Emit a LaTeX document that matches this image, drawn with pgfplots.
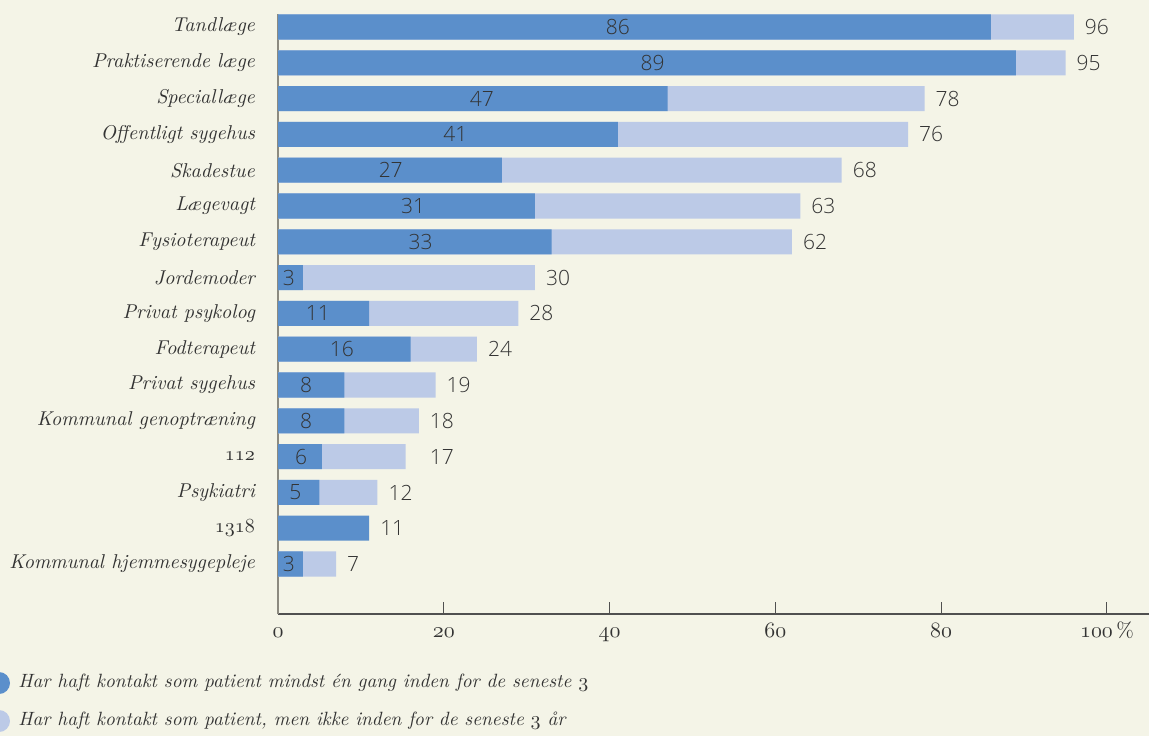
\documentclass[border=0pt]{standalone}
\usepackage{fontspec}
\usepackage{pgfplots}
\usepackage{pgfplotstable}
\pgfplotsset{compat=1.18}
\newfontfamily\numfont{Open Sans Light}
\newcommand\osf[1]{{\usefont{OML}{cmm}{m}{it}#1}}
\definecolor{bg}{RGB}{244,244,231}
\definecolor{dark}{RGB}{91,143,203}
\definecolor{light}{RGB}{188,202,231}
\definecolor{txt}{RGB}{51,51,51}
\definecolor{axisdark}{RGB}{80,80,80}
\definecolor{axisgray}{RGB}{140,138,128}

\pgfplotstableread{
y total dark
15 96 86
14 95 89
13 78 47
12 76 41
11 68 27
10 63 31
9 62 33
8 31 3
7 29 11
6 24 16
5 19 8
4 17 8
3 15.4 5.3
2 12 5
1 0 11
0 7 3
}\bars

\pgfplotstableread{
y x lab
15 96 96
14 95 95
13 78 78
12 76 76
11 68 68
10 63 63
9 62 62
8 31 30
7 29 28
6 24 24
5 19 19
4 17 18
3 17 17
2 12 12
1 11 11
0 7 7
}\totlabels

\pgfplotstableread{
y x lab
15 41.0 86
14 45.2 89
13 24.6 47
12 21.4 41
11 13.6 27
10 16.3 31
9 17.2 33
8 1.3 3
7 4.8 11
6 7.7 16
5 3.4 8
4 3.4 8
3 2.8 6
2 2.1 5
0 1.3 3
}\darklabels

\begin{document}
\begin{tikzpicture}
\path[use as bounding box] (0,0) rectangle (574.5pt,-368pt);
\clip (0,0) rectangle (574.5pt,-368pt);
\fill[bg] (0,0) rectangle (574.5pt,-368pt);
\begin{axis}[
  at={(139pt,-307pt)}, anchor=south west,
  scale only axis, width=435.5pt, height=300pt,
  xmin=0, xmax=105.07, ymin=-1.397, ymax=15.363,
  axis x line*=bottom, axis y line*=left,
  x axis line style={draw=axisdark, line width=0.6pt, -},
  y axis line style={draw=axisgray, line width=1pt, -},
  xtick={0,20,40,60,80,100},
  xticklabels={\osf{0},\osf{20},\osf{40},\osf{60},\osf{80},\osf{100}\,\%},
  ytick={0,...,15},
  yticklabels={Kommunal hjemmesygepleje,\osf{1318},Psykiatri,\osf{112},Kommunal genoptræning,Privat sygehus,Fodterapeut,Privat psykolog,Jordemoder,Fysioterapeut,Lægevagt,Skadestue,Offentligt sygehus,Speciallæge,Praktiserende læge,Tandlæge},
  tick align=inside,
  major tick length=6pt,
  xtick style={draw=axisdark, line width=0.5pt},
  ytick style={draw=none},
  yticklabel style={font=\itshape\fontsize{10}{12}\selectfont, text=txt, xshift=-8pt},
  xticklabel style={font=\fontsize{10.5}{12}\selectfont, text=txt, text height=4.5pt, text depth=0pt, yshift=-3.5pt},
  clip=false,
]
\addplot[xbar, bar width=0.7, bar shift=0pt, fill=light, draw=none] table[x=total, y=y] {\bars};
\addplot[xbar, bar width=0.7, bar shift=0pt, fill=dark, draw=none] table[x=dark, y=y] {\bars};
\addplot[draw=none, mark=none, nodes near coords, point meta=explicit symbolic,
  every node near coord/.append style={anchor=center, font=\numfont\fontsize{10.5}{12}\selectfont, text=txt}]
  table[x=x, y=y, meta=lab] {\darklabels};
\addplot[draw=none, mark=none, nodes near coords, point meta=explicit symbolic,
  every node near coord/.append style={anchor=west, xshift=2pt, font=\numfont\fontsize{10.5}{12}\selectfont, text=txt}]
  table[x=x, y=y, meta=lab] {\totlabels};
\end{axis}
\fill[dark] (-0.5pt,-341.5pt) circle (5.5pt);
\fill[light] (-0.5pt,-360.5pt) circle (5.5pt);
\node[anchor=west, inner sep=0pt, text=txt, font=\itshape\fontsize{9.6}{12}\selectfont] at (9pt,-341.5pt) {Har haft kontakt som patient mindst én gang inden for de seneste \osf{3}};
\node[anchor=west, inner sep=0pt, text=txt, font=\itshape\fontsize{9.6}{12}\selectfont] at (9pt,-360.5pt) {Har haft kontakt som patient, men ikke inden for de seneste \osf{3} år};
\end{tikzpicture}
\end{document}
